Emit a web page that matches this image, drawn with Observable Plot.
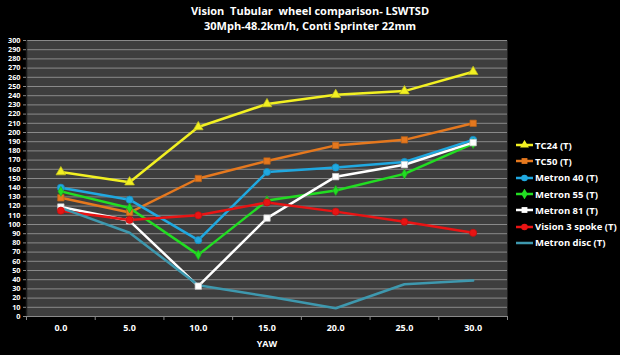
<!DOCTYPE html>
<html>
<head>
<meta charset="utf-8">
<script src="https://cdn.jsdelivr.net/npm/d3@7"></script>
<script src="https://cdn.jsdelivr.net/npm/@observablehq/plot@0.6"></script>
<style>
  html, body { margin: 0; padding: 0; background: #000; }
  #wrap { position: relative; width: 620px; height: 355px; overflow: hidden; background: #000; font-family: "Open Sans", "DejaVu Sans", sans-serif; }
  #title { position: absolute; left: 0; top: 3px; width: 620px; text-align: center; color: #fff; font-weight: bold; font-size: 11px; line-height: 15px; z-index: 2; }
  #chart { position: absolute; left: 0; top: 30px; }
  #legend { position: absolute; left: 516px; top: 137px; }
  .li { display: flex; align-items: center; height: 16.3px; color: #fff; font-weight: bold; font-size: 9.5px; white-space: nowrap; }
  .li svg { margin-right: 2px; }
</style>
</head>
<body>
<div id="wrap">
  <div id="title">Vision&nbsp; Tubular&nbsp; wheel comparison- LSWTSD<br>30Mph-48.2km/h, Conti Sprinter 22mm</div>
  <div id="chart"></div>
  <div id="legend"></div>
</div>
<script>
const yaw = [0, 5, 10, 15, 20, 25, 30];
const seriesNames = ["TC24 (T)", "TC50 (T)", "Metron 40 (T)", "Metron 55 (T)", "Metron 81 (T)", "Vision 3 spoke (T)", "Metron disc (T)"];
const tc24 = [157, 146, 206, 231, 241, 245, 266];
const tc50 = [129, 113, 150, 169, 186, 192, 210];
const metron40 = [140, 127, 83, 157, 162, 168, 192];
const metron55 = [136, 118, 67, 126, 137, 155, 188];
const metron81 = [119, 104, 33, 107, 152, 165, 189];
const vision3 = [115, 105, 110, 124, 114, 103, 91];
const metronDisc = [118, 91, 34, 22, 9, 35, 39];
const yTicks = d3.range(0, 301, 10);
const xBounds = [-2.5, 2.5, 7.5, 12.5, 17.5, 22.5, 27.5, 32.5];

const colors = ["#f2f022", "#e5781e", "#20a8e0", "#22dd22", "#ffffff", "#e81414", "#3e98ae"];
const symbols = ["triangle", "square", "circle", "diamond", "square", "circle", null];
const allValues = [tc24, tc50, metron40, metron55, metron81, vision3, metronDisc];

const rows = [];
seriesNames.forEach((s, i) => yaw.forEach((x, j) => rows.push({series: s, yaw: x, value: allValues[i][j]})));

const colorOf = Object.fromEntries(seriesNames.map((s, i) => [s, colors[i]]));
const symOf = Object.fromEntries(seriesNames.map((s, i) => [s, symbols[i]]));

const chart = Plot.plot({
  width: 620,
  height: 325,
  marginTop: 10,
  marginBottom: 39,
  marginLeft: 26,
  marginRight: 113,
  style: {background: "transparent", color: "#fff", fontFamily: "Open Sans, DejaVu Sans, sans-serif"},
  x: {domain: [-2.5, 32.5]},
  y: {domain: [0, 300]},
  marks: [
    Plot.frame({fill: "#3e3e3e", stroke: null}),
    Plot.gridY(yTicks, {stroke: "#8a8a8a", strokeOpacity: 1, strokeWidth: 1}),
    Plot.ruleX([-2.5], {stroke: "#1a1a1a", strokeWidth: 1.5}),
    Plot.axisY(yTicks, {tickSize: 3, tickPadding: 3, stroke: "#888", fill: "#fff", fontWeight: "bold", fontSize: 7.3, label: null}),
    Plot.axisX(xBounds, {tickSize: 4, stroke: "#888", tickFormat: () => "", label: null}),
    Plot.axisX(yaw, {tickSize: 0, tickPadding: 8, fill: "#fff", fontWeight: "bold", fontSize: 9, tickFormat: d => d.toFixed(1), label: null}),
    Plot.text(["YAW"], {frameAnchor: "bottom", dy: 30, fill: "#fff", fontWeight: "bold", fontSize: 9}),
    ...seriesNames.map((s, i) => Plot.line(rows.filter(r => r.series === s), {x: "yaw", y: "value", stroke: colors[i], strokeWidth: 2.5})),
    ...seriesNames.filter(s => symOf[s]).map(s => Plot.dot(rows.filter(r => r.series === s), {
      x: "yaw", y: "value", symbol: symOf[s], r: symOf[s] === "diamond" ? 3 : 3.6, fill: colorOf[s], stroke: d3.color(colorOf[s]).darker(0.6).formatHex(), strokeWidth: 0.7
    }))
  ]
});
document.getElementById("chart").appendChild(chart);

const legend = document.getElementById("legend");
seriesNames.forEach((s, i) => {
  const item = document.createElement("div");
  item.className = "li";
  const svg = d3.create("svg").attr("width", 17).attr("height", 10);
  svg.append("line").attr("x1", 0).attr("x2", 17).attr("y1", 5).attr("y2", 5).attr("stroke", colors[i]).attr("stroke-width", 2.5);
  if (symbols[i]) {
    const typ = {triangle: d3.symbolTriangle, square: d3.symbolSquare, circle: d3.symbolCircle, diamond: d3.symbolDiamond}[symbols[i]];
    svg.append("path").attr("d", d3.symbol(typ, 34)()).attr("transform", "translate(8.5,5)").attr("fill", colors[i]);
  }
  item.appendChild(svg.node());
  const t = document.createElement("span");
  t.textContent = s;
  item.appendChild(t);
  legend.appendChild(item);
});
</script>
</body>
</html>
